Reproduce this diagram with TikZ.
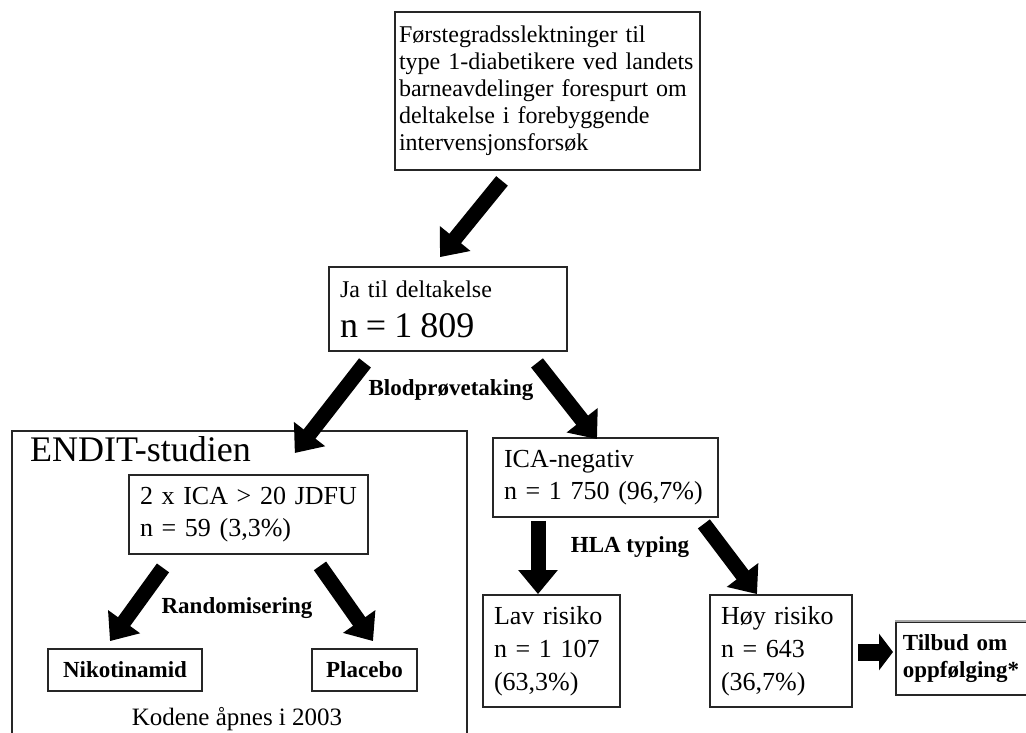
\documentclass[tikz,border=0pt]{standalone}
\usepackage{fontspec}
\setmainfont{Liberation Serif}
\usetikzlibrary{arrows.meta,calc}
\begin{document}
\begin{tikzpicture}[x=1pt,y=-1pt,
  box/.style={draw=black!85,line width=1.8pt,align=left,inner xsep=11pt,inner ysep=0pt,
    font=\fontsize{26}{32}\selectfont},
  lab/.style={inner sep=0pt,anchor=base,font=\fontsize{23}{27}\selectfont\bfseries},
  arr/.style={line width=15pt,-{Triangle[length=24pt,width=38pt]}}]
\clip (0,0) rectangle (1026,733);
\fill[white] (0,0) rectangle (1026,733);
% top
\node[box,font=\fontsize{24}{27}\selectfont,inner xsep=4pt,text width=297pt,minimum height=158pt] (q) at (547.5,91)
  {Førstegradsslektninger til\\type 1-diabetikere ved landets\\barneavdelinger forespurt om\\deltakelse i forebyggende\\intervensjonsforsøk};
\node[box,font=\fontsize{24}{40}\selectfont,text width=216pt,minimum height=84pt] (ja) at (448,309)
  {Ja til deltakelse\\{\fontsize{36}{40}\selectfont n = 1 809}};
% ENDIT
\node[draw=black!85,line width=1.8pt,anchor=north west,minimum width=455pt,minimum height=340pt,inner sep=0pt] (endit) at (11,430) {};
\node[anchor=base west,inner sep=0pt,font=\fontsize{36}{40}\selectfont] (ttl) at ($(endit.north west)+(19,31)$) {ENDIT-studien};
\node[box,text width=217pt,minimum height=79pt] (ica2) at (248.5,514.5) {2 x ICA > 20 JDFU\\n = 59 (3,3\%)};
\node[box,align=center,inner xsep=0pt,minimum width=154pt,minimum height=42pt,font=\fontsize{23}{27}\selectfont\bfseries] (nik) at (125,670) {Nikotinamid};
\node[box,align=center,inner xsep=0pt,minimum width=105pt,minimum height=42pt,font=\fontsize{23}{27}\selectfont\bfseries] (plac) at (364.5,670) {Placebo};
\node[lab] (rand) at (237,613) {Randomisering};
\node[inner sep=0pt,anchor=base,font=\fontsize{25}{30}\selectfont] (kod) at (237,725) {Kodene åpnes i 2003};
% right branch
\node[lab] (blod) at (451,395) {Blodprøvetaking};
\node[box,text width=203pt,minimum height=79pt] (neg) at (605.5,477.5) {ICA-negativ\\n = 1 750 (96,7\%)};
\node[lab] (hla) at (630,552) {HLA typing};
\node[box,font=\fontsize{26}{33}\selectfont,text width=115pt,minimum height=112pt] (lav) at (551.5,651) {Lav risiko\\n = 1 107\\(63,3\%)};
\node[box,font=\fontsize{26}{33}\selectfont,text width=120pt,minimum height=112pt] (hoy) at (781,651) {Høy risiko\\n = 643\\(36,7\%)};
\node[box,anchor=west,inner xsep=7pt,text width=150pt,minimum height=73pt,font=\fontsize{23}{27}\selectfont\bfseries] (tilb) at (895,658.5) {Tilbud om\\oppfølging*};
\draw[black!35,line width=1.8pt] (tilb.north west) -- (tilb.north east);
% arrows
\draw[arr] ($(q.south)+(-45.5,10)$) -- ($(ja.north)+(-8,-9)$);
\draw[arr] ($(ja.south)+(-83,11)$) -- ($(endit.north east)+(-173,23)$);
\draw[arr] ($(ja.south)+(89,11)$) -- ($(neg.north)+(-8.5,2)$);
\draw[arr] ($(ica2.south)+(-85.5,13)$) -- ($(nik.north)+(-15,-7)$);
\draw[arr] ($(ica2.south)+(71.5,11)$) -- ($(plac.north)+(8.5,-7)$);
\draw[arr] ($(neg.south)+(-67.5,3)$) -- ($(lav.north)+(-13.5,0)$);
\draw[arr] ($(neg.south east)+(-15,6)$) -- ($(hoy.north)+(-24,0)$);
\draw[arr,line width=17pt,-{Triangle[length=14pt,width=36pt]}] ($(hoy.east)+(5,1)$) -- ($(tilb.west)+(-2,-6.5)$);
\end{tikzpicture}
\end{document}
